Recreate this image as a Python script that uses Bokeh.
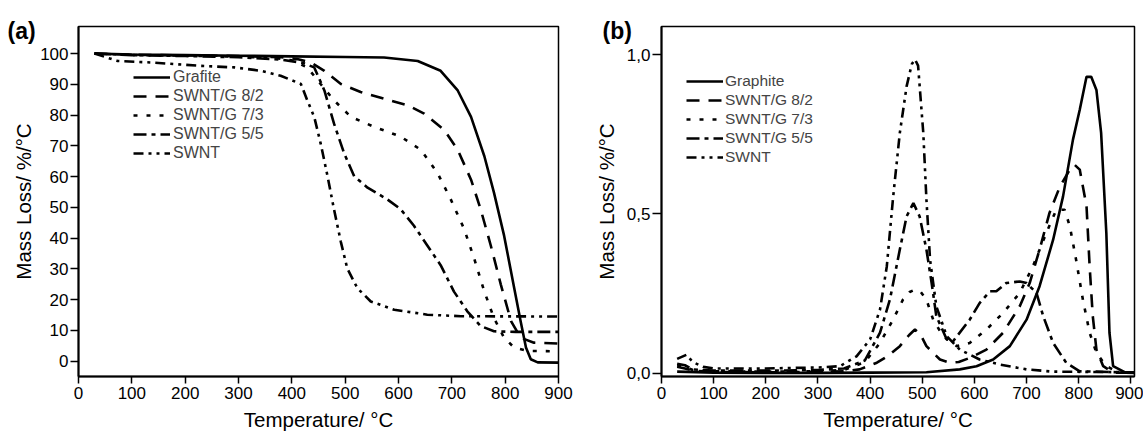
from bokeh.plotting import figure
from bokeh.models import (Range1d, FixedTicker, CustomJSTickFormatter, Legend,
                          LegendItem, Title)
from bokeh.layouts import row
from bokeh.embed import file_html
from bokeh.resources import INLINE

FONT = "Liberation Sans"

# ---------------- Panel (a): TGA mass curves ----------------
a_grafite_t = [30, 100, 200, 300, 400, 500, 573, 636, 679, 711, 736, 761, 779, 798, 817, 829, 839, 848, 861, 900]
a_grafite_m = [100, 99.7, 99.5, 99.3, 99.1, 98.9, 98.7, 97.6, 94.4, 88, 79.4, 66.6, 54.8, 40.8, 23.7, 13, 4.4, 0.6, -0.4, -0.5]

a_82_t = [30, 100, 200, 300, 380, 410, 436, 461, 492, 529, 573, 617, 648, 686, 711, 736, 754, 773, 792, 811, 829, 854, 900]
a_82_m = [100, 99.6, 99.4, 99.2, 98.8, 98.2, 97.1, 94.4, 90.1, 87.5, 85.3, 83.2, 80.5, 75.1, 68.7, 59, 49.4, 37.6, 24.8, 13, 7.6, 6.0, 5.7]

a_73_t = [30, 100, 200, 300, 370, 400, 429, 454, 479, 511, 554, 604, 642, 673, 698, 723, 742, 761, 779, 798, 817, 842, 900]
a_73_m = [100, 99.5, 99.3, 99.0, 98.5, 97.8, 95.5, 90.1, 84.8, 79.4, 76.2, 73, 68.7, 61.2, 52.6, 43, 33.3, 22.6, 14, 7.6, 4.4, 3.3, 3.2]

a_55_t = [30, 100, 200, 300, 380, 420, 442, 461, 479, 498, 517, 542, 579, 604, 629, 654, 679, 704, 729, 754, 779, 820, 900]
a_55_m = [100, 99.5, 99.2, 98.8, 98.0, 97.0, 95.5, 88, 77.3, 67.6, 60.1, 56.4, 52.6, 49.4, 44, 37.6, 31.2, 22.6, 16.2, 11.4, 9.7, 9.5, 9.5]

a_swnt_t = [30, 73, 136, 229, 292, 342, 379, 417, 429, 442, 454, 467, 479, 492, 504, 523, 548, 592, 654, 717, 900]
a_swnt_m = [100, 97.6, 97.1, 96, 95.5, 94.4, 92.8, 90.1, 84.8, 79.4, 70.8, 60.1, 49.4, 38.7, 30.1, 23.7, 19.4, 16.7, 15.1, 14.6, 14.5]

# ---------------- Panel (b): DTG curves ----------------
b_graphite_t = [30, 100, 200, 300, 400, 508, 572, 604, 636, 668, 700, 725, 751, 770, 789, 802, 815, 824, 834, 843, 853, 859, 866, 890, 907]
b_graphite_d = [0.005, 0.002, 0.001, 0.001, 0.002, 0.003, 0.012, 0.022, 0.043, 0.085, 0.168, 0.273, 0.419, 0.555, 0.733, 0.827, 0.93, 0.93, 0.889, 0.754, 0.44, 0.127, 0.022, 0.002, 0.001]

b_82_t = [30, 45, 60, 100, 200, 300, 350, 380, 413, 435, 457, 475, 486, 497, 508, 534, 553, 570, 591, 623, 655, 687, 706, 725, 744, 764, 783, 792, 802, 815, 821, 827, 834, 847, 866, 907]
b_82_d = [0.02, 0.015, 0.008, 0.004, 0.003, 0.004, 0.006, 0.012, 0.033, 0.055, 0.085, 0.12, 0.137, 0.12, 0.085, 0.043, 0.033, 0.035, 0.048, 0.074, 0.127, 0.21, 0.283, 0.388, 0.503, 0.586, 0.639, 0.654, 0.639, 0.524, 0.335, 0.179, 0.074, 0.022, 0.002, 0.001]

b_73_t = [30, 45, 60, 100, 200, 300, 350, 390, 419, 444, 463, 476, 486, 497, 508, 521, 540, 566, 591, 623, 655, 687, 712, 738, 757, 773, 783, 795, 808, 821, 834, 853, 878, 907]
b_73_d = [0.025, 0.02, 0.01, 0.006, 0.005, 0.006, 0.01, 0.035, 0.095, 0.168, 0.231, 0.255, 0.262, 0.255, 0.231, 0.168, 0.116, 0.085, 0.095, 0.137, 0.189, 0.252, 0.335, 0.44, 0.513, 0.513, 0.461, 0.356, 0.231, 0.127, 0.064, 0.022, 0.002, 0.001]

b_55_t = [30, 45, 60, 100, 200, 300, 350, 390, 419, 438, 457, 470, 483, 495, 508, 518, 527, 547, 559, 591, 610, 630, 642, 661, 687, 700, 719, 732, 751, 776, 802, 907]
b_55_d = [0.03, 0.025, 0.012, 0.008, 0.008, 0.01, 0.015, 0.04, 0.127, 0.231, 0.388, 0.492, 0.534, 0.492, 0.388, 0.283, 0.179, 0.106, 0.1, 0.168, 0.22, 0.257, 0.257, 0.283, 0.288, 0.283, 0.252, 0.179, 0.095, 0.033, 0.006, 0.002]

b_swnt_t = [30, 48, 60, 80, 100, 200, 300, 342, 374, 400, 419, 432, 444, 457, 470, 480, 486, 492, 502, 508, 515, 527, 547, 572, 610, 650, 700, 750, 907]
b_swnt_d = [0.045, 0.058, 0.035, 0.02, 0.015, 0.015, 0.018, 0.022, 0.053, 0.106, 0.2, 0.335, 0.55, 0.754, 0.9, 0.97, 0.985, 0.965, 0.754, 0.545, 0.356, 0.21, 0.116, 0.074, 0.043, 0.027, 0.012, 0.005, 0.003]

labels_a = ["Grafite", "SWNT/G 8/2", "SWNT/G 7/3", "SWNT/G 5/5", "SWNT"]
labels_b = ["Graphite", "SWNT/G 8/2", "SWNT/G 7/3", "SWNT/G 5/5", "SWNT"]
panel_tags = ["(a)", "(b)"]
x_ticks = [0, 100, 200, 300, 400, 500, 600, 700, 800, 900]
ya_ticks = [0, 10, 20, 30, 40, 50, 60, 70, 80, 90, 100]
yb_ticks = [0.0, 0.5, 1.0]

DASHES = ["solid", "13 9", "4 9", "13 5 4 5", "10 5 3 5 3 5"]
WIDTHS = [2.6, 2.6, 2.6, 2.6, 2.6]


def style(p, ytick_len):
    p.xgrid.visible = False
    p.ygrid.visible = False
    p.outline_line_color = "black"
    p.outline_line_width = 1.5
    for ax in (p.xaxis[0], p.yaxis[0]):
        ax.axis_line_width = 2
        ax.major_tick_line_width = 1.5
        ax.major_tick_in = 0
        ax.minor_tick_line_color = None
        ax.major_label_text_font = FONT
        ax.major_label_text_font_size = "17px"
        ax.major_label_text_color = "black"
        ax.axis_label_text_font = FONT
        ax.axis_label_text_font_size = "20.5px"
        ax.axis_label_text_font_style = "normal"
        ax.axis_label_text_color = "black"
    p.xaxis.major_tick_out = 7
    p.yaxis.major_tick_out = ytick_len
    p.xaxis.major_label_standoff = 3
    p.xaxis.axis_label_standoff = 6
    p.yaxis.major_label_standoff = 2
    p.xaxis.axis_label = "Temperature/ °C"
    p.yaxis.axis_label = "Mass Loss/ %/°C"


def add_legend(p, renderers, labels, loc, fsize, standoff):
    items = [LegendItem(label=l, renderers=[r]) for l, r in zip(labels, renderers)]
    lg = Legend(items=items, location=loc, glyph_width=37, glyph_height=16,
                label_height=16, spacing=1, padding=0, margin=0,
                border_line_color=None, background_fill_alpha=0,
                label_text_font=FONT, label_text_font_size=fsize,
                label_standoff=standoff)
    p.add_layout(lg)


def tag(text, offset):
    return Title(text=text, align="left", offset=offset, standoff=-34,
                 vertical_align="bottom", text_font=FONT, text_font_size="23px",
                 text_font_style="bold", text_color="black")


# Panel (a)
pa = figure(width=589, height=434, x_range=Range1d(0, 900), y_range=Range1d(-5, 108.8),
            output_backend="svg", toolbar_location=None,
            min_border_left=78, min_border_right=31, min_border_top=22, min_border_bottom=58)
style(pa, 8)
pa.xaxis.ticker = FixedTicker(ticks=x_ticks)
pa.yaxis.ticker = FixedTicker(ticks=ya_ticks)
pa.yaxis.axis_label_standoff = 2
pa.title = tag(panel_tags[0], -71)

series_a = [(a_grafite_t, a_grafite_m), (a_82_t, a_82_m), (a_73_t, a_73_m),
            (a_55_t, a_55_m), (a_swnt_t, a_swnt_m)]
rs_a = []
for (t, m), d, w in zip(series_a, DASHES, WIDTHS):
    rs_a.append(pa.line(t, m, line_color="black", line_width=w, line_dash=d))
add_legend(pa, rs_a, labels_a, (55, 214), "16px", 3)

# Panel (b)
pb = figure(width=554, height=434, x_range=Range1d(0, 907), y_range=Range1d(-0.0103, 1.088),
            output_backend="svg", toolbar_location=None,
            min_border_left=72, min_border_right=9, min_border_top=26, min_border_bottom=57)
style(pb, 9)
pb.xaxis.ticker = FixedTicker(ticks=x_ticks)
pb.yaxis.ticker = FixedTicker(ticks=yb_ticks)
pb.yaxis.formatter = CustomJSTickFormatter(code="return tick.toFixed(1).replace('.', ',');")
pb.yaxis.axis_label_standoff = 6
pb.title = tag(panel_tags[1], -59)

series_b = [(b_graphite_t, b_graphite_d), (b_82_t, b_82_d), (b_73_t, b_73_d),
            (b_55_t, b_55_d), (b_swnt_t, b_swnt_d)]
rs_b = []
for (t, d_), d, w in zip(series_b, DASHES, WIDTHS):
    rs_b.append(pb.line(t, d_, line_color="black", line_width=w, line_dash=d))
add_legend(pb, rs_b, labels_b, (25, 210), "15.5px", 2)

layout = row(pa, pb)
open("out.html", "w").write(file_html(layout, INLINE))
